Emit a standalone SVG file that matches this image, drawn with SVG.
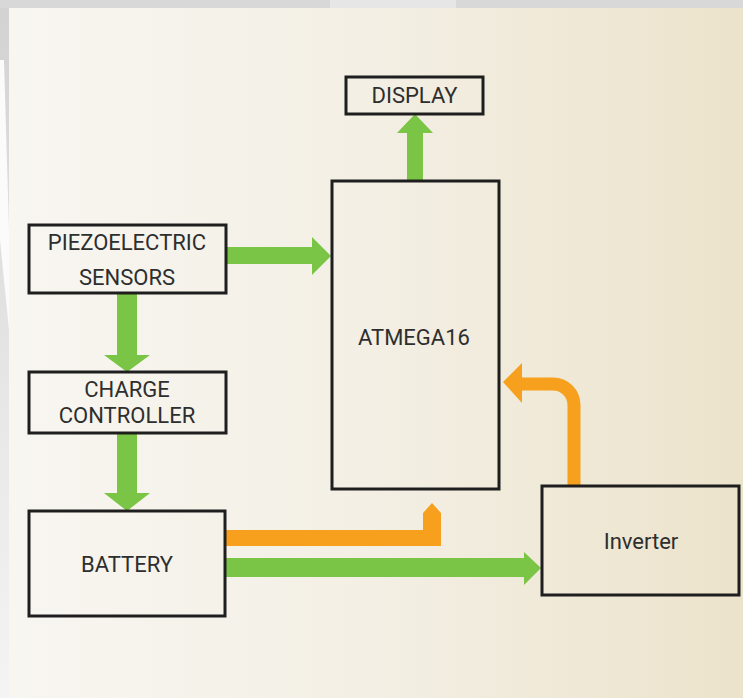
<svg xmlns="http://www.w3.org/2000/svg" width="743" height="698" viewBox="0 0 743 698">
<defs>
<linearGradient id="bg" x1="0" y1="0" x2="1" y2="0">
<stop offset="0" stop-color="#f8f6f1"/>
<stop offset="0.5" stop-color="#f3efe4"/>
<stop offset="1" stop-color="#ece3cb"/>
</linearGradient>
<linearGradient id="strip" x1="0" y1="0" x2="0" y2="1">
<stop offset="0" stop-color="#d2d2d2"/>
<stop offset="0.6" stop-color="#e8e8e8"/>
<stop offset="1" stop-color="#f4f4f4"/>
</linearGradient>
<style>
.box{fill:none;stroke:#1e1e1e;stroke-width:3}
.lbl{font-family:Roboto,"Liberation Sans",sans-serif;font-size:22px;fill:#2e2e2e;text-anchor:middle}
.g{fill:#7ac545}
.o{fill:#f6a01d}
</style>
</defs>
<rect x="0" y="0" width="743" height="698" fill="#f2f2f2"/>
<rect x="0" y="0" width="9" height="698" fill="url(#strip)"/>
<polygon points="0,60 4,60 9,230 9,330 0,240" fill="#fbfbfb"/>
<rect x="0" y="0" width="743" height="8" fill="#d8d8d8"/>
<rect x="330" y="0" width="126" height="8" fill="#e6e6e6"/>
<rect x="9" y="8" width="734" height="690" fill="url(#bg)"/>

<g id="connectors">
<polygon class="g" points="407,181 407,133 397,133 415,114 433,133 423,133 423,181"/>
<polygon class="g" points="226,247 312,247 312,237 331,256 312,275 312,264 226,264"/>
<polygon class="g" points="117,293 137,293 137,355 150,355 127,372 104,355 117,355"/>
<polygon class="g" points="117,433 137,433 137,493 150,493 127,511 104,493 117,493"/>
<polygon class="g" points="226,558 524,558 524,552 541,568 524,585 524,577 226,577"/>
<polygon class="o" points="226,530 423,530 423,513 432,503 441,513 441,546 226,546"/>
<path d="M574,486 V405 A21,21 0 0 0 553,384 H520" fill="none" stroke="#f6a01d" stroke-width="13"/>
<polygon class="o" points="522,363 503,382 522,403"/>
</g>

<g id="display">
<rect class="box" x="346" y="77" width="137" height="37"/>
<text class="lbl" x="414.5" y="103" font-size="21">DISPLAY</text>
</g>
<g id="atmega16">
<rect class="box" x="332" y="181" width="167" height="308"/>
<text class="lbl" x="414" y="345">ATMEGA16</text>
</g>
<g id="piezo">
<rect class="box" x="29" y="225" width="197" height="68"/>
<text class="lbl" x="127" y="250">PIEZOELECTRIC</text>
<text class="lbl" x="127" y="285">SENSORS</text>
</g>
<g id="charge">
<rect class="box" x="29" y="372" width="197" height="61"/>
<text class="lbl" x="127" y="397">CHARGE</text>
<text class="lbl" x="127" y="423">CONTROLLER</text>
</g>
<g id="battery">
<rect class="box" x="29" y="511" width="196" height="105"/>
<text class="lbl" x="127" y="572">BATTERY</text>
</g>
<g id="inverter">
<rect class="box" x="542" y="486" width="197" height="109"/>
<text class="lbl" x="641" y="549" font-size="23">Inverter</text>
</g>
</svg>
